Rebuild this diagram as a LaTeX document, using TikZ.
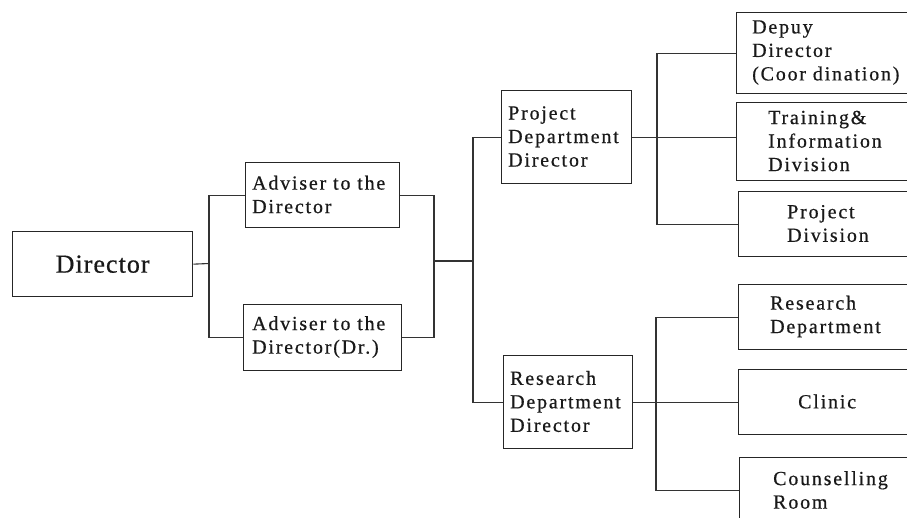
\documentclass[tikz,border=0pt]{standalone}
\usepackage{fontspec}
\setmainfont{Liberation Serif}[LetterSpace=9,FakeBold=0.6]
\newfontfamily\dirfont{Liberation Serif}[LetterSpace=4,FakeBold=0.6]
\begin{document}
\begin{tikzpicture}[x=1pt,y=-1pt,
  box/.style={draw=black!85, line width=1.3pt, rectangle, inner sep=0pt, anchor=north west},
  txt/.style={anchor=west, align=left, inner sep=0pt, text=black!90, font=\fontsize{20}{23.5}\selectfont},
  link/.style={draw=black!80, line width=1.1pt}]
\useasboundingbox (0,0) rectangle (907,517);
\clip (0,0) rectangle (907,517);
% boxes
\node[box, minimum width=180pt, minimum height=65pt] (dir) at (12,231) {};
\node[box, minimum width=154pt, minimum height=65pt] (a1) at (245,162) {};
\node[box, minimum width=158pt, minimum height=66pt] (a2) at (243,304) {};
\node[box, minimum width=130pt, minimum height=93pt] (pd) at (501,90) {};
\node[box, minimum width=129pt, minimum height=93pt] (rd) at (503,355) {};
\node[box, minimum width=194pt, minimum height=81pt] (dd) at (736,12) {};
\node[box, minimum width=194pt, minimum height=78pt] (tr) at (736,102) {};
\node[box, minimum width=192pt, minimum height=65pt] (pj) at (738,191) {};
\node[box, minimum width=192pt, minimum height=65pt] (rs) at (738,284) {};
\node[box, minimum width=192pt, minimum height=65pt] (cl) at (738,369) {};
\node[box, minimum width=191pt, minimum height=66pt] (co) at (739,457) {};
% texts
\node[anchor=center, inner sep=0pt, text=black!90, font=\dirfont\fontsize{26}{30}\selectfont] (tdir) at (dir.center) {Director};
\node[txt] (ta1) at (252,194.5) {Adviser to the\\Director};
\node[txt] (ta2) at (252,337) {Adviser to the\\Director(Dr.)};
\node[txt] (tpd) at (508,136.5) {Project\\Department\\Director};
\node[txt] (trd) at (510,401.5) {Research\\Department\\Director};
\node[txt] (tdd) at (752,52.5) {Depuy\\Director\\(Coor dination)};
\node[txt] (ttr) at (768,141) {Training\&\\Information\\Division};
\node[txt] (tpj) at (787,223.5) {Project\\Division};
\node[txt] (trs) at (770,316.5) {Research\\Department};
\node[txt] (tcl) at (798,401.5) {Clinic};
\node[txt] (tco) at (773,490) {Counselling\\Room};
% junctions
\coordinate (j1) at (209,263.5);
\coordinate (j2) at (434,261);
\coordinate (j3) at (473,261);
\coordinate (j4) at (657,136.5);
\coordinate (j5) at (656,401.5);
% connectors
\draw[link] (dir.east) -- (j1);
\draw[link] (j1) |- (a1.west);
\draw[link] (j1) |- (a2.west);
\draw[link] (a1.east) -| (j2);
\draw[link] (a2.east) -| (j2);
\draw[link] (j2) -- (j3);
\draw[link] (j3) |- (pd.west);
\draw[link] (j3) |- (rd.west);
\draw[link] (pd.east) -- (pd.east -| tr.west);
\draw[link] (j4) |- (dd.west);
\draw[link] (j4) |- (pj.west);
\draw[link] (rd.east) -- (cl.west);
\draw[link] (j5) |- (rs.west);
\draw[link] (j5) |- (co.west);
\end{tikzpicture}
\end{document}
